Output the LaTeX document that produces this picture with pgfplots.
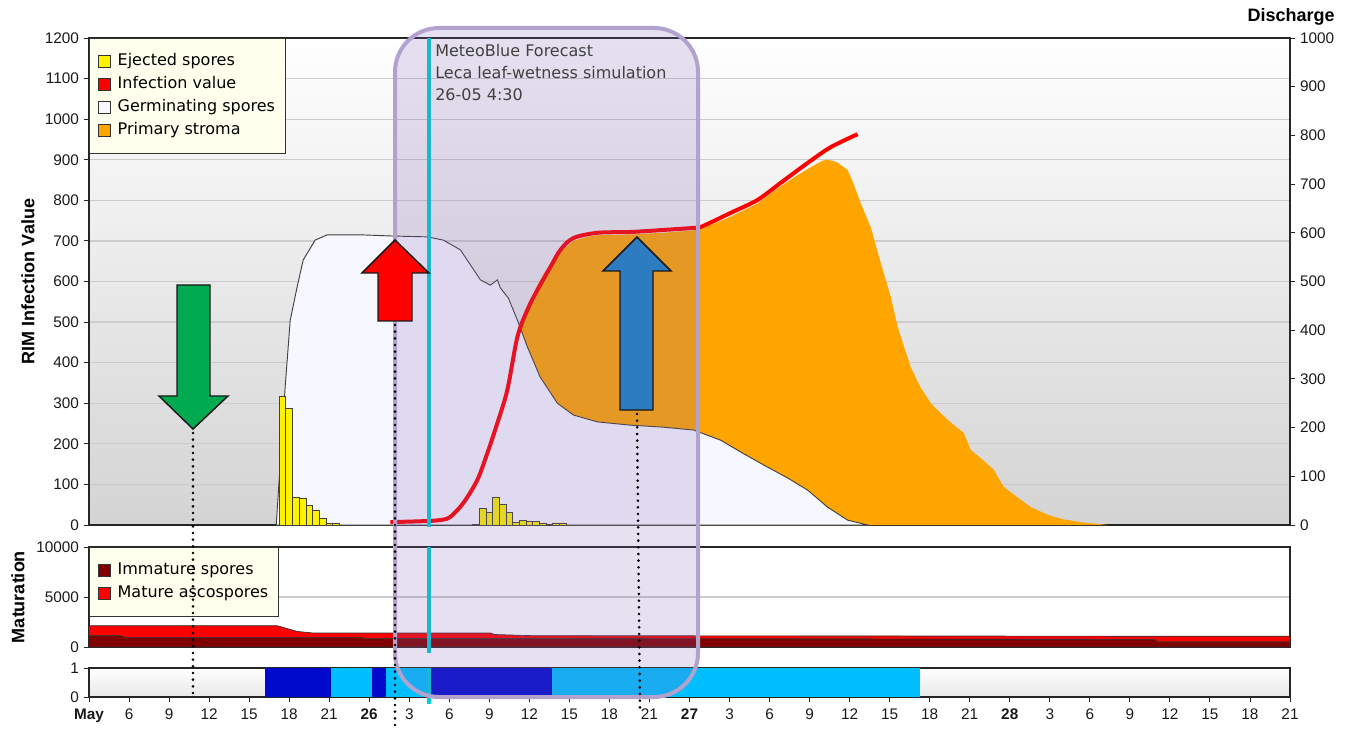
\documentclass[border=0pt]{standalone}
\usepackage{pgfplots}
\pgfplotsset{compat=1.18}
\usepackage{fontspec}
\setmainfont{Liberation Sans}
\newfontfamily\dv{DejaVu Sans}

\definecolor{stroma}{RGB}{255,165,0}
\definecolor{gerfill}{RGB}{247,248,255}
\definecolor{infred}{RGB}{255,0,0}
\definecolor{immat}{RGB}{128,0,0}
\definecolor{wetdark}{RGB}{0,10,205}
\definecolor{wetlight}{RGB}{0,191,255}
\definecolor{legfill}{RGB}{255,255,238}
\definecolor{boxfill}{RGB}{128,100,180}
\definecolor{boxedge}{RGB}{178,162,206}
\definecolor{cyanl}{RGB}{0,205,215}
\definecolor{arrgreen}{RGB}{0,170,80}
\definecolor{arrblue}{RGB}{45,123,192}

% x = hours since 25 May 00:00
\pgfplotsset{
  panel/.style={scale only axis, width=900.75pt, xmin=3, xmax=93, anchor=south west,
    axis line style={black!85, line width=0.8pt}, tick align=outside, major tick length=4pt,
    tick style={black!85, line width=0.7pt}, ytick pos=left, xtick pos=bottom,
    ymajorgrids, grid style={black!20, line width=0.9pt},
    tick label style={font=\fontsize{11.5}{13}\selectfont, text=black!90},
    /pgf/number format/assume math mode=true, /pgf/number format/1000 sep={},
    scaled y ticks=false},
  leg/.style={legend style={at={(0,1)}, anchor=north west, draw=black!80, line width=0.8pt,
    fill=legfill, font=\dv\fontsize{12}{14}\selectfont, inner xsep=6pt, inner ysep=9.5pt,
    row sep=1.75pt, nodes={inner sep=2pt, text height=9pt, text depth=2.5pt},
    /tikz/every odd column/.append style={column sep=3.5pt}},
    legend cell align=left},
  ylab/.style={every axis y label/.style={at={(rel axis cs:0,0.5)}, xshift=#1, rotate=90,
    anchor=center, font=\bfseries\fontsize{13.5}{15}\selectfont}},
}

\begin{document}
\begin{tikzpicture}
\useasboundingbox (0,0) rectangle (1014pt,546.75pt);

% ---- top panel: RIM infection value
\begin{axis}[panel, leg, ylab=-45.75pt, at={(66.75pt,153pt)}, height=365.25pt,
  ymin=0, ymax=1200, ytick={0,100,...,1200}, xtick=\empty,
  axis background/.style={shade, top color=white, bottom color=black!17},
  ylabel={RIM Infection Value},
  legend image code/.code={\draw[#1, draw=black!80, line width=0.6pt] (0pt,-4.5pt) rectangle (9pt,4.5pt);}]
\addlegendimage{fill=yellow}\addlegendentry{Ejected spores}
\addlegendimage{fill=infred}\addlegendentry{Infection value}
\addlegendimage{fill=gerfill}\addlegendentry{Germinating spores}
\addlegendimage{fill=stroma}\addlegendentry{Primary stroma}
% primary stroma
\addplot[fill=stroma, draw=none, forget plot] coordinates {
 (34.6,0) (35.2,470) (35.6,515) (36.1,555) (36.6,590) (37.1,620) (37.6,645) (38.3,672)
 (39.3,700) (40.3,710) (41.1,714) (43.6,716) (46.0,720) (48.3,726) (48.8,728) (51.1,760)
 (53.1,792) (54.8,834) (56.0,860) (57.0,880) (58.0,898) (58.35,900) (59.0,895) (59.85,875)
 (60.3,840) (60.83,793) (61.58,734) (62.33,646) (63.08,562) (63.6,488) (64.58,389) (65.3,340)
 (66.08,300) (67.35,259) (68.55,227) (69.08,185) (70.0,160) (70.8,136) (71.55,94) (72.5,70)
 (73.58,44) (74.85,25) (76.0,14) (77.33,7) (79.35,0)} \closedcycle;
% germinating spores
\addplot[fill=gerfill, draw=black!75, line width=0.7pt, forget plot] coordinates {
 (17.03,0) (17.7,340) (18.08,505) (18.6,587) (19.05,653) (19.95,702) (20.85,715) (23.33,715)
 (25.8,712) (28.35,710) (29.55,702) (30.83,678) (32.33,604) (33.08,591) (33.6,604) (33.83,584)
 (34.43,559) (35.1,505) (35.85,439) (36.8,365) (38.1,300) (39.3,271) (41.1,254) (43.58,246)
 (46.05,241) (48.3,234) (50.33,209) (51.83,180) (53.55,148) (55.35,116) (56.85,86)
 (58.35,44) (59.85,12) (61.35,0)} \closedcycle;
% ejected spores
\addplot[ybar, bar width=0.5, bar shift=0pt, fill=yellow, draw=black!75, line width=0.5pt, forget plot] coordinates {
 (17.5,316) (18,288) (18.5,69) (19,66) (19.5,49) (20,37) (20.5,17) (21,3) (21.5,3)
 (32,2) (32.5,42) (33,32) (33.5,69) (34,52) (34.5,32) (35,7) (35.5,12) (36,8) (36.5,8)
 (37,5) (37.5,2) (38,5) (38.5,5)};
% infection value
\addplot[color=infred, line width=3pt, line join=round, smooth, forget plot] coordinates {
 (25.58,7) (28.5,10) (29.5,13) (30.08,20) (31.05,54) (32.1,111) (32.85,177) (33.6,251)
 (34.35,333) (35.1,463) (35.85,530) (36.6,579) (37.58,636) (38.33,678) (39.3,707)
 (41.1,720) (43.58,722) (46.05,727) (48.3,732) (48.83,734) (51.08,769) (53.1,801)
 (54.83,843) (56.85,892) (58.58,931) (60.6,963)};
\end{axis}

% ---- discharge axis (right)
\begin{axis}[scale only axis, width=900.75pt, height=365.25pt, at={(66.75pt,153pt)}, anchor=south west,
  xmin=3, xmax=93, ymin=0, ymax=1000, axis y line*=right, axis x line=none,
  ytick={0,100,...,1000}, tick align=outside, major tick length=4pt,
  axis line style={black!85, line width=0.8pt}, tick style={black!85, line width=0.7pt},
  tick label style={font=\fontsize{11.5}{13}\selectfont, text=black!90},
  /pgf/number format/assume math mode=true, /pgf/number format/1000 sep={}]
\end{axis}

% ---- middle panel: maturation
\begin{axis}[panel, leg, ylab=-53.25pt, at={(66.75pt,61.5pt)}, height=75pt,
  ymin=0, ymax=10000, ytick={0,5000,10000}, xtick=\empty, stack plots=y,
  ylabel={Maturation},
  legend image code/.code={\draw[#1, draw=black!80, line width=0.6pt] (0pt,-4.5pt) rectangle (9pt,4.5pt);}]
\addplot[fill=immat, draw=black!80, line width=0.5pt] coordinates {
 (3,1130) (5.3,1130) (5.7,960) (17.1,960) (18.6,960) (19.8,960) (23.4,960) (23.6,830)
 (33.1,830) (33.4,830) (36.3,830) (82.8,760) (83.1,500) (93,500)} \closedcycle;
\addlegendentry{Immature spores}
\addplot[fill=infred, draw=black!80, line width=0.5pt] coordinates {
 (3,1000) (5.3,1000) (5.7,1170) (17.1,1170) (18.6,600) (19.8,440) (23.4,440) (23.6,570)
 (33.1,570) (33.4,420) (36.3,300) (82.8,320) (83.1,580) (93,580)} \closedcycle;
\addlegendentry{Mature ascospores}
\end{axis}

% ---- bottom panel: leaf wetness
\begin{axis}[panel, at={(66.75pt,24pt)}, height=21.75pt, ymin=0, ymax=1, ytick={0,1},
  ymajorgrids=false, xtick={3,6,...,93},
  x tick label style={yshift=-1.5pt},
  axis background/.style={shade, top color=white, bottom color=black!9},
  xticklabels={\textbf{May},6,9,12,15,18,21,\textbf{26},3,6,9,12,15,18,21,\textbf{27},
    3,6,9,12,15,18,21,\textbf{28},3,6,9,12,15,18,21}]
\addplot[fill=wetdark, draw=none] coordinates {(16.2,1) (21.15,1)} \closedcycle;
\addplot[fill=wetlight, draw=none] coordinates {(21.15,1) (24.2,1)} \closedcycle;
\addplot[fill=wetdark, draw=none] coordinates {(24.2,1) (25.25,1)} \closedcycle;
\addplot[fill=wetlight, draw=none] coordinates {(25.25,1) (28.5,1)} \closedcycle;
\addplot[fill=wetdark, draw=none] coordinates {(28.5,1) (37.7,1)} \closedcycle;
\addplot[fill=wetlight, draw=none] coordinates {(37.7,1) (65.3,1)} \closedcycle;
\end{axis}

% ---- annotations (pixel grid of the reference)
\begin{scope}[shift={(0pt,546.75pt)}, x=0.75pt, y=-0.75pt]
\draw[cyanl, line width=2.6pt] (429,38) -- (429,527) (429,547) -- (429,653) (429,668) -- (429,704);
\draw[boxedge, line width=3pt, fill=boxfill, fill opacity=0.2, rounded corners=33pt] (395,28) rectangle (698,697);
\begin{scope}[every node/.style={anchor=base west, inner sep=0pt, text=black!75, font=\dv\fontsize{12}{14}\selectfont}]
\node at (435,57) {MeteoBlue Forecast};
\node at (435,79) {Leca leaf-wetness simulation};
\node at (435,101) {26-05 4:30};
\end{scope}
\filldraw[fill=arrgreen, draw=black!90, line width=1.1pt]
  (177,285) -- (210,285) -- (210,396) -- (228,396) -- (193,429) -- (159,396) -- (177,396) -- cycle;
\filldraw[fill=infred, draw=black!90, line width=1.1pt]
  (378,321) -- (378,273) -- (362,273) -- (395,240) -- (429,273) -- (412,273) -- (412,321) -- cycle;
\filldraw[fill=arrblue, draw=black!90, line width=1.1pt]
  (620,410) -- (620,271) -- (603,271) -- (637,237) -- (671,271) -- (653,271) -- (653,410) -- cycle;
\draw[black, line width=2.2pt, line cap=round, dash pattern=on 0pt off 5pt]
  (193,433) -- (193,695) (395,325) -- (395,729) (637,414) -- (640,712);
\node[anchor=base east, inner sep=0pt, font=\bfseries\fontsize{13.5}{15}\selectfont] at (1335,22) {Discharge};
\end{scope}
\end{tikzpicture}
\end{document}
